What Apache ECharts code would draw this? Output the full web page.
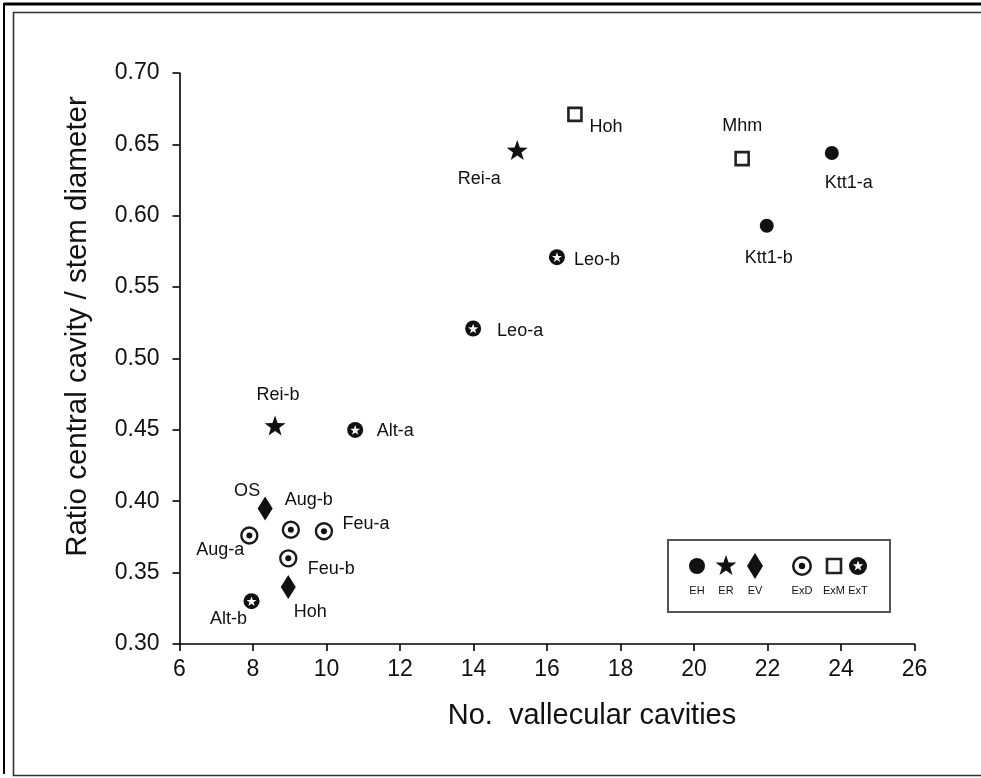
<!DOCTYPE html>
<html><head><meta charset="utf-8">
<script src="https://cdn.jsdelivr.net/npm/echarts@6/dist/echarts.min.js"></script>
<style>html,body{margin:0;padding:0;background:#fff}#c{width:981px;height:778px}</style>
</head><body><div id="c"></div>
<script>
// ---- data ----
const xTicks = [6, 8, 10, 12, 14, 16, 18, 20, 22, 24, 26];
const yTicks = [0.30, 0.35, 0.40, 0.45, 0.50, 0.55, 0.60, 0.65, 0.70];
const ehNames = ['Ktt1-a', 'Ktt1-b'];
const ehX = [23.75, 21.98];
const ehY = [0.644, 0.593];
const erNames = ['Rei-a', 'Rei-b'];
const erX = [15.19, 8.60];
const erY = [0.646, 0.453];
const evNames = ['OS', 'Hoh'];
const evX = [8.33, 8.96];
const evY = [0.395, 0.340];
const exdNames = ['Aug-a', 'Aug-b', 'Feu-a', 'Feu-b'];
const exdX = [7.90, 9.03, 9.93, 8.96];
const exdY = [0.376, 0.380, 0.379, 0.360];
const exmNames = ['Hoh', 'Mhm'];
const exmX = [16.76, 21.31];
const exmY = [0.671, 0.640];
const extNames = ['Leo-b', 'Leo-a', 'Alt-a', 'Alt-b'];
const extX = [16.27, 13.99, 10.78, 7.96];
const extY = [0.571, 0.521, 0.450, 0.330];
const legendNames = ['EH', 'ER', 'EV', 'ExD', 'ExM', 'ExT'];

// ---- label placement (style, px offsets from marker centre) ----
const labelOffsets = {
  EH: [[17, 30], [2, 32]],
  ER: [[-38, 29], [3, -31]],
  EV: [[-18, -17], [22, 25]],
  ExD: [[-29, 15], [18, -30], [42, -7], [43, 11]],
  ExM: [[31, 13], [0, -33]],
  ExT: [[40, 3], [47, 3], [40, 1], [-23, 18]]
};

const FONT = '"Liberation Sans", Arial, Helvetica, sans-serif';
const INK = '#111';
const STAR = 'path://M50,2 L61.8,36.2 L97.6,36.9 L69.1,58.6 L79.4,92.9 L50,72.4 L20.6,92.9 L30.9,58.6 L2.4,36.9 L38.2,36.2 Z';

function pts(xs, ys, names, key, withLabel) {
  return xs.map((x, i) => {
    const d = { value: [x, ys[i]], name: names[i] };
    if (withLabel) {
      d.label = { show: true, position: 'inside', offset: labelOffsets[key][i],
        formatter: names[i], fontFamily: FONT, fontSize: 18, color: INK, opacity: 1 };
    } else {
      d.label = { show: false };
    }
    return d;
  });
}

function starPoints(cx, cy, R, r) {
  const p = [];
  for (let k = 0; k < 10; k++) {
    const a = -Math.PI / 2 + k * Math.PI / 5;
    const rad = k % 2 === 0 ? R : r;
    p.push([cx + rad * Math.cos(a), cy + rad * Math.sin(a)]);
  }
  return p;
}

const chart = echarts.init(document.getElementById('c'), null, { renderer: 'canvas' });

const legX = [697, 726, 755, 802, 834, 858];
const legY = 566;

function sc(name, symbol, size, style, data, extra) {
  return Object.assign({ name, type: 'scatter', symbol, symbolSize: size,
    itemStyle: Object.assign({ opacity: 1 }, style), emphasis: { disabled: true }, data }, extra || {});
}

const option = {
  animation: false,
  backgroundColor: '#fff',
  grid: { left: 179.5, right: 66.5, top: 73, bottom: 134, containLabel: false },
  xAxis: {
    type: 'value', min: xTicks[0], max: xTicks[xTicks.length - 1], interval: 2,
    name: 'No.  vallecular cavities', nameLocation: 'middle', nameGap: 57,
    nameTextStyle: { fontFamily: FONT, fontSize: 29, color: INK, padding: [0, 0, 0, 90] },
    axisLine: { show: true, lineStyle: { color: '#000', width: 1.6 } },
    axisTick: { show: true, length: 7, lineStyle: { color: '#000', width: 1.6 } },
    axisLabel: { fontFamily: FONT, fontSize: 23, color: INK, margin: 14 },
    splitLine: { show: false }
  },
  yAxis: {
    type: 'value', min: yTicks[0], max: yTicks[yTicks.length - 1], interval: 0.05,
    name: 'Ratio central cavity / stem diameter', nameLocation: 'middle', nameGap: 87,
    nameTextStyle: { fontFamily: FONT, fontSize: 29.5, color: INK, padding: [0, 0, 0, 64] },
    axisLine: { show: true, lineStyle: { color: '#000', width: 1.6 } },
    axisTick: { show: true, length: 7, lineStyle: { color: '#000', width: 1.6 } },
    axisLabel: { fontFamily: FONT, fontSize: 23, color: INK, margin: 20,
      formatter: v => v.toFixed(2) },
    splitLine: { show: false }
  },
  series: [
    sc('EH', 'circle', 14, { color: INK }, pts(ehX, ehY, ehNames, 'EH', true)),
    sc('ER', STAR, 21, { color: INK }, pts(erX, erY, erNames, 'ER', true), { symbolKeepAspect: true }),
    sc('EV', 'diamond', [15, 24], { color: INK }, pts(evX, evY, evNames, 'EV', true)),
    sc('ExD', 'circle', 16, { color: '#fff', borderColor: '#1a1a1a', borderWidth: 2.4 },
      pts(exdX, exdY, exdNames, 'ExD', true)),
    sc('ExD-dot', 'circle', 6, { color: INK }, pts(exdX, exdY, exdNames, 'ExD', false), { silent: true }),
    sc('ExM', 'rect', 13, { color: '#fff', borderColor: '#222', borderWidth: 2.6 },
      pts(exmX, exmY, exmNames, 'ExM', true)),
    sc('ExT', 'circle', 16, { color: INK }, pts(extX, extY, extNames, 'ExT', true)),
    sc('ExT-star', STAR, 10, { color: '#fff' }, pts(extX, extY, extNames, 'ExT', false),
      { silent: true, symbolKeepAspect: true })
  ],
  graphic: [
    // page frame
    { type: 'line', shape: { x1: 4, y1: 4, x2: 981, y2: 4 }, style: { stroke: '#000', lineWidth: 3 } },
    { type: 'line', shape: { x1: 4, y1: 3, x2: 4, y2: 774 }, style: { stroke: '#000', lineWidth: 2 } },
    { type: 'rect', shape: { x: 13.5, y: 12.5, width: 990, height: 763 },
      style: { fill: 'none', stroke: '#333', lineWidth: 1.6 } },
    // legend box
    { type: 'rect', shape: { x: 668, y: 540, width: 222, height: 72 },
      style: { fill: '#fff', stroke: '#555', lineWidth: 2 }, z: 10 },
    { type: 'circle', shape: { cx: legX[0], cy: legY, r: 8 }, style: { fill: INK }, z: 11 },
    { type: 'polygon', shape: { points: starPoints(legX[1], legY, 11, 4.4) }, style: { fill: INK }, z: 11 },
    { type: 'polygon', shape: { points: [[legX[2], legY - 13], [legX[2] + 8, legY], [legX[2], legY + 13], [legX[2] - 8, legY]] },
      style: { fill: INK }, z: 11 },
    { type: 'ring', shape: { cx: legX[3], cy: legY, r: 10, r0: 7.5 }, style: { fill: '#1a1a1a' }, z: 11 },
    { type: 'circle', shape: { cx: legX[3], cy: legY, r: 3.2 }, style: { fill: INK }, z: 11 },
    { type: 'rect', shape: { x: legX[4] - 7, y: legY - 7, width: 14, height: 14 },
      style: { fill: '#fff', stroke: '#222', lineWidth: 2.6 }, z: 11 },
    { type: 'circle', shape: { cx: legX[5], cy: legY, r: 9 }, style: { fill: INK }, z: 11 },
    { type: 'polygon', shape: { points: starPoints(legX[5], legY, 5.5, 2.3) }, style: { fill: '#fff' }, z: 12 }
  ].concat(legendNames.map((n, i) => ({
    type: 'text', x: legX[i], y: 591, z: 12,
    style: { text: n, fontFamily: FONT, fontSize: 11, fill: INK, textAlign: 'center', textVerticalAlign: 'middle' }
  })))
};
chart.setOption(option);
</script>
</body></html>
